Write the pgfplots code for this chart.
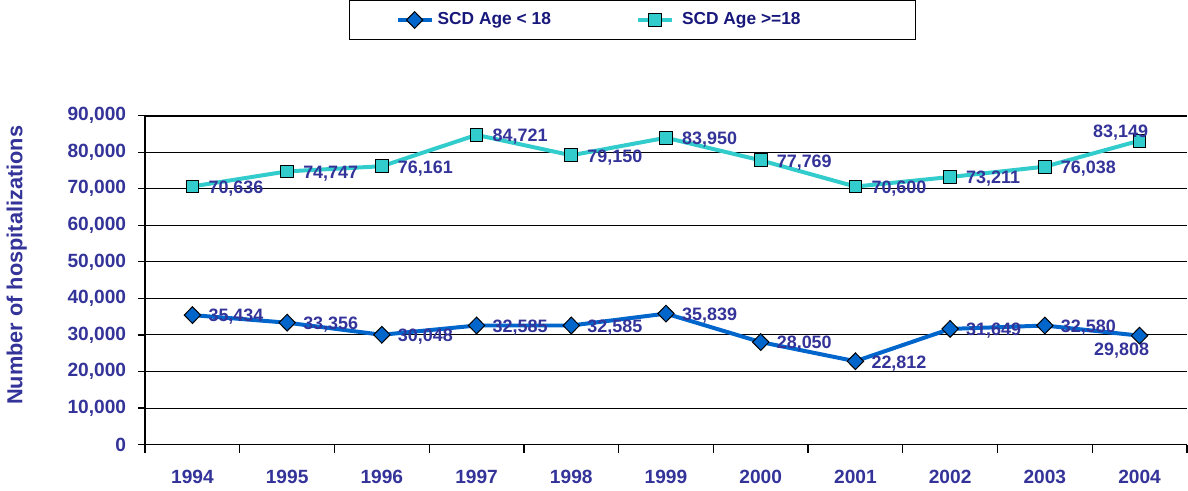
\documentclass[border=0pt]{standalone}
\usepackage{pgfplots}
\usepackage{pgfplotstable}
\pgfplotsset{compat=1.18}
\usepackage{fontspec}
\setmainfont{Liberation Sans}
\definecolor{lblue}{RGB}{51,51,153}
\definecolor{navyt}{RGB}{24,24,124}
\definecolor{ser1}{RGB}{0,102,204}
\definecolor{ser2}{RGB}{51,204,204}

\pgfplotstableread{
x y
0 35434
1 33356
2 30048
3 32585
4 32585
5 35839
6 28050
7 22812
8 31649
9 32580
}\dataA
\pgfplotstableread{
x y
9 32580
10 29808
}\dataAlast
\pgfplotstableread{
x y
0 70636
1 74747
2 76161
3 84721
4 79150
5 83950
6 77769
7 70600
8 73211
9 76038
}\dataB
\pgfplotstableread{
x y
9 76038
10 83149
}\dataBlast

\begin{document}
\begin{tikzpicture}
\begin{axis}[
  scale only axis, width=522.5pt, height=165pt,
  xmin=-0.5, xmax=10.5, ymin=0, ymax=90000,
  axis x line*=bottom, axis y line*=left,
  axis line style={black, line width=0.6pt, -},
  xtick={0,...,10},
  xticklabels={1994,1995,1996,1997,1998,1999,2000,2001,2002,2003,2004},
  major x tick style={draw=none},
  minor xtick={-0.5,0.5,...,10.5},
  ytick={0,10000,...,90000},
  tick align=outside,
  major tick length=3.5pt, minor tick length=4pt,
  tick style={black, line width=0.6pt},
  ymajorgrids, grid style={black, line width=0.5pt},
  extra y ticks={90000}, extra y tick labels={},
  extra y tick style={grid style={black, line width=1.1pt}, major tick length=0pt},
  scaled y ticks=false,
  ticklabel style={font=\fontsize{9.6}{11}\selectfont\bfseries, text=lblue},
  xticklabel style={yshift=-6pt},
  yticklabel style={xshift=-2.5pt, /pgf/number format/.cd, 1000 sep={,}, fixed, precision=0, assume math mode=true},
  ylabel={Number of hospitalizations},
  ylabel style={font=\fontsize{10.9}{12}\selectfont\bfseries, text=lblue, at={(ticklabel cs:0.545,10pt)}},
  legend columns=2,
  legend style={at={(0.196,1.3515)}, anchor=north west, draw=black, line width=0.5pt,
    font=\fontsize{8.7}{10}\selectfont\bfseries, text=navyt, inner xsep=23pt, inner ysep=4pt},
  nodes near coords={\pgfmathprintnumber[1000 sep={,}, fixed, precision=0, assume math mode=true]{\pgfplotspointmeta}},
  every node near coord/.append style={font=\fontsize{9}{10}\selectfont\bfseries, text=lblue, anchor=west, xshift=4.5pt, yshift=-1pt},
  clip=false,
]
\addplot[ser1, line width=2pt, mark=diamond*, mark size=4.2pt,
  mark options={xscale=1.3, fill=ser1, draw=black, line width=0.5pt}] table[x=x,y=y] {\dataA};
\addlegendentry{\makebox[97.5pt][l]{SCD Age < 18}}
\addplot[ser2, line width=2pt, mark=square*, mark size=3.2pt,
  mark options={fill=ser2, draw=black, line width=0.5pt}] table[x=x,y=y] {\dataB};
\addlegendentry{\makebox[94pt][l]{\hspace{2pt}SCD Age >=18}}
\addplot[forget plot, ser1, line width=2pt, mark=diamond*, mark size=4.2pt,
  mark options={xscale=1.3, fill=ser1, draw=black, line width=0.5pt}, mark indices={2},
  nodes near coords={\ifnum\coordindex=1 \pgfmathprintnumber[1000 sep={,}, fixed, precision=0, assume math mode=true]{\pgfplotspointmeta}\fi},
  every node near coord/.append style={anchor=center, xshift=-13.5pt, yshift=-6.5pt}] table[x=x,y=y] {\dataAlast};
\addplot[forget plot, ser2, line width=2pt, mark=square*, mark size=3.2pt,
  mark options={fill=ser2, draw=black, line width=0.5pt}, mark indices={2},
  nodes near coords={\ifnum\coordindex=1 \pgfmathprintnumber[1000 sep={,}, fixed, precision=0, assume math mode=true]{\pgfplotspointmeta}\fi},
  every node near coord/.append style={anchor=center, xshift=-14pt, yshift=5pt}] table[x=x,y=y] {\dataBlast};
\end{axis}
\end{tikzpicture}
\end{document}
